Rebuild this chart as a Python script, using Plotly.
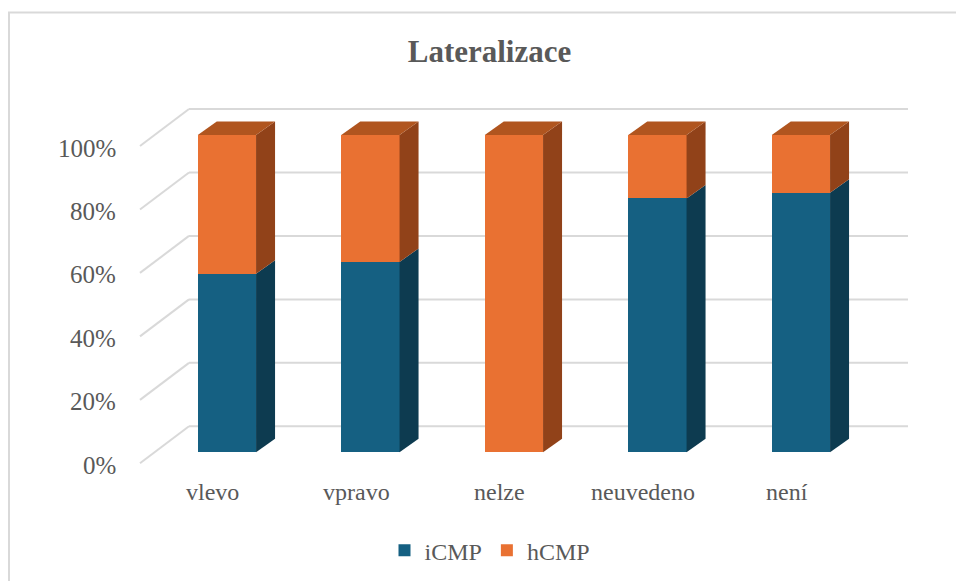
import plotly.graph_objects as go

# --- data -------------------------------------------------------------
categories = ["vlevo", "vpravo", "nelze", "neuvedeno", "není"]
icmp = [56.25, 60.0, 0.0, 80.0, 81.82]          # % iCMP
hcmp = [100 - v for v in icmp]                   # % hCMP (rest to 100 %)
tick_values = [0, 20, 40, 60, 80, 100]
tick_labels = ["0%", "20%", "40%", "60%", "80%", "100%"]
series_names = ["iCMP", "hCMP"]

# --- styling / 3-D geometry (in axis units) ---------------------------
FONT = "Liberation Serif, Times New Roman, serif"
TEXT = "#595959"
GRID = "#d9d9d9"
front_cols = ["#156082", "#E97132"]
side_cols = ["#0d3b50", "#914219"]
top_cols = ["#114d68", "#b0551f"]

W, H = 956, 581
PX_X = 143.5            # pixels per category step
PX_Y = 3.173            # pixels per percent
X0_PX, Y0_PX = 226.9, 452.3   # pixel of category 0 / value 0 on bar front

def ux(px):  # horizontal pixel distance -> x units
    return px / PX_X

def uy(px):  # vertical pixel distance -> y units
    return px / PX_Y

bar_w = ux(58.3)
depth_dx, depth_dy = ux(19), uy(13.5)         # bar depth
wall_back_dy = uy(26)                          # back wall behind bar front
wall_front_dy = -uy(11)                        # front edge of side wall
wall_back_x = ux(189 - X0_PX)
wall_front_x = ux(140 - X0_PX)
wall_right_x = ux(908 - X0_PX)

fig = go.Figure()

# front faces: stacked bars
for name, vals, col in zip(series_names, [icmp, hcmp], front_cols):
    fig.add_trace(go.Bar(
        x=list(range(len(categories))), y=vals, name=name, width=bar_w,
        marker=dict(color=col, line=dict(width=0)), hoverinfo="skip",
    ))

# side and top faces derived from the stacked values
for i in range(len(categories)):
    base = 0.0
    segs = [(icmp[i], 0), (hcmp[i], 1)]
    for v, s in segs:
        if v <= 0:
            continue
        x_r = i + bar_w / 2
        y0, y1 = base, base + v
        fig.add_trace(go.Scatter(
            x=[x_r, x_r + depth_dx, x_r + depth_dx, x_r, x_r],
            y=[y0, y0 + depth_dy, y1 + depth_dy, y1, y0],
            fill="toself", fillcolor=side_cols[s], mode="lines",
            line=dict(width=0), showlegend=False, hoverinfo="skip",
        ))
        base = y1
    top_s = 1 if hcmp[i] > 0 else 0
    x_l, x_r = i - bar_w / 2, i + bar_w / 2
    fig.add_trace(go.Scatter(
        x=[x_l, x_l + depth_dx, x_r + depth_dx, x_r, x_l],
        y=[base, base + depth_dy, base + depth_dy, base, base],
        fill="toself", fillcolor=top_cols[top_s], mode="lines",
        line=dict(width=0), showlegend=False, hoverinfo="skip",
    ))

# gridlines on back wall and side wall
shapes = []
for v in tick_values:
    shapes.append(dict(type="line", xref="x", yref="y", layer="below",
                       x0=wall_back_x, x1=wall_right_x,
                       y0=v + wall_back_dy, y1=v + wall_back_dy,
                       line=dict(color=GRID, width=2)))
    shapes.append(dict(type="line", xref="x", yref="y", layer="below",
                       x0=wall_front_x, x1=wall_back_x,
                       y0=v + wall_front_dy, y1=v + wall_back_dy,
                       line=dict(color=GRID, width=2)))
# chart area border
shapes.append(dict(type="rect", xref="paper", yref="paper", layer="below",
                   x0=9 / W, x1=1.02, y0=-0.02, y1=1 - 12.5 / H,
                   line=dict(color=GRID, width=2)))

annotations = []
for v, t in zip(tick_values, tick_labels):
    annotations.append(dict(x=ux(118 - X0_PX), y=v + wall_front_dy - uy(2),
                            xref="x", yref="y", text=t, showarrow=False,
                            xanchor="right", yanchor="middle",
                            font=dict(family=FONT, size=25, color=TEXT)))
for i, c in enumerate(categories):
    annotations.append(dict(x=i - ux(14), y=-uy(40), xref="x", yref="y",
                            text=c, showarrow=False, xanchor="center",
                            yanchor="middle",
                            font=dict(family=FONT, size=24, color=TEXT)))

fig.update_layout(
    width=W, height=H,
    margin=dict(l=0, r=0, t=0, b=0),
    paper_bgcolor="white", plot_bgcolor="white",
    barmode="stack",
    title=dict(text="<b>Lateralizace</b>", x=489.5 / W, xanchor="center",
               y=1 - 51 / H, yanchor="middle",
               font=dict(family=FONT, size=31, color=TEXT)),
    xaxis=dict(visible=False, range=[-X0_PX / PX_X, (W - X0_PX) / PX_X],
               fixedrange=True),
    yaxis=dict(visible=False, range=[(Y0_PX - H) / PX_Y, Y0_PX / PX_Y],
               fixedrange=True),
    legend=dict(orientation="h", x=490 / W, xanchor="center",
                y=1 - 550.7 / H, yanchor="middle", traceorder="normal",
                font=dict(family=FONT, size=24, color=TEXT),
                bgcolor="rgba(0,0,0,0)"),
    shapes=shapes, annotations=annotations,
    showlegend=True,
)

fig.write_html("out.html")
